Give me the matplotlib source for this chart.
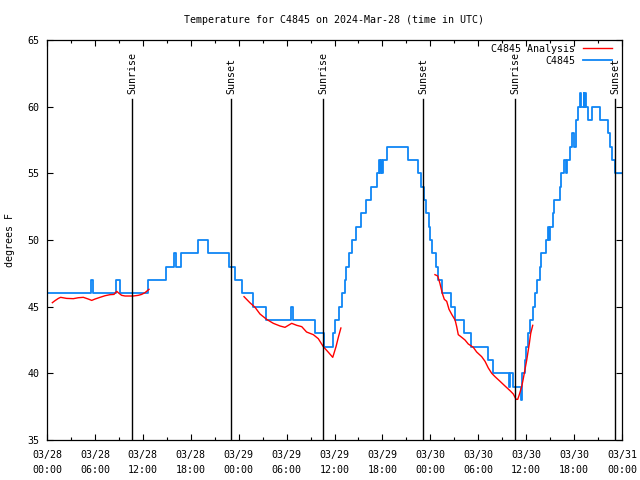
import numpy as np
import pandas as pd
import matplotlib
matplotlib.use('Agg')
import matplotlib.pyplot as plt
import matplotlib.dates as mdates
from matplotlib.transforms import blended_transform_factory

plt.rcParams['font.family'] = ['DejaVu Sans Mono']
plt.rcParams['font.size'] = 7.2

start = pd.Timestamp('2024-03-28 00:00')

# observed station temps (hours after 03/28 00:00 UTC, deg F), stepwise
obs_hours = [0.1, 5.55, 5.75, 8.6, 9.2, 12.6, 14.9, 15.95, 16.1, 16.8, 18.9, 20.2,
             22.8, 23.6, 24.4, 25.8, 27.4, 30.55, 30.75, 33.55, 34.7, 35.8, 36.0,
             36.6, 37.0, 37.3, 37.5, 37.8, 38.2, 38.7, 39.3, 40.0, 40.6, 41.3, 41.6,
             41.75, 41.85, 41.95, 42.05, 42.6, 45.2, 46.5, 46.8, 47.2, 47.5, 47.8,
             48.0, 48.2, 48.7, 49.0, 49.5, 50.6, 51.1, 52.2, 53.1, 55.2, 55.9, 57.8,
             58.0, 58.4, 59.4, 59.5, 59.8, 60.0, 60.2, 60.5, 60.8, 61.1, 61.3, 61.7,
             61.9, 62.5, 62.7, 62.85, 63.0, 63.4, 63.5, 64.2, 64.4, 64.7, 65.0, 65.1,
             65.5, 65.7, 66.0, 66.2, 66.3, 66.5, 66.7, 66.9, 67.2, 67.3, 67.4, 67.5,
             67.7, 68.2, 69.2, 70.2, 70.5, 70.7, 71.1, 72.0]
obs_temps = [46, 47, 46, 47, 46, 47, 48, 49, 48, 49, 50, 49,
             48, 47, 46, 45, 44, 45, 44, 43, 42, 43, 44,
             45, 46, 47, 48, 49, 50, 51, 52, 53, 54, 55, 56,
             55, 56, 55, 56, 57, 56, 55, 54, 53, 52, 51,
             50, 49, 48, 47, 46, 45, 44, 43, 42, 41, 40, 39,
             40, 39, 38, 40, 41, 42, 43, 44, 45, 46, 47, 48,
             49, 50, 51, 50, 51, 52, 53, 54, 55, 56, 55, 56,
             57, 58, 57, 58, 59, 60, 61, 60, 61, 60, 61, 60,
             59, 60, 59, 58, 57, 56, 55, 55]

# analysis, three pieces with gaps between them
ana1_hours = [0.67, 1.0, 1.42, 1.71, 2.46, 3.3, 3.92, 4.55, 5.18, 5.6, 6.0, 6.64,
              7.26, 7.89, 8.39, 8.73, 9.02, 9.35, 9.77, 10.8, 11.43, 11.85, 12.27,
              12.57, 12.77]
ana1_temps = [45.3, 45.45, 45.62, 45.7, 45.62, 45.6, 45.67, 45.7, 45.57, 45.47, 45.57,
              45.7, 45.82, 45.9, 45.92, 46.15, 46.0, 45.85, 45.8, 45.8, 45.85, 45.92,
              46.05, 46.2, 46.3]
ana2_hours = [24.67, 25.4, 26.05, 26.67, 27.5, 28.34, 29.18, 29.8, 30.64, 31.27, 31.9,
              32.5, 33.35, 33.97, 34.6, 35.2, 35.78, 36.19, 36.5, 36.8]
ana2_temps = [45.75, 45.3, 44.95, 44.45, 44.05, 43.75, 43.55, 43.45, 43.75, 43.6, 43.5,
              43.1, 42.9, 42.6, 42.0, 41.6, 41.2, 42.0, 42.75, 43.4]
ana3_hours = [48.58, 48.92, 49.2, 49.5, 49.75, 50.05, 50.34, 50.7, 51.1, 51.3, 51.5,
              51.93, 52.34, 52.75, 53.38, 53.8, 54.43, 54.85, 55.26, 55.69, 56.1,
              56.73, 57.35, 57.98, 58.39, 58.73, 58.94, 59.14, 59.44, 59.64, 60.07,
              60.4, 60.57, 60.82]
ana3_temps = [47.4, 47.3, 46.75, 46.0, 45.55, 45.4, 44.8, 44.4, 44.0, 43.5, 42.9,
              42.7, 42.5, 42.2, 41.95, 41.6, 41.25, 40.9, 40.4, 40.0, 39.75,
              39.4, 39.05, 38.7, 38.45, 38.05, 38.05, 38.4, 39.0, 39.6, 41.0,
              42.25, 43.0, 43.6]

sun_hours = [10.64, 23.04, 34.56, 47.08, 58.6, 71.12]
sun_names = ['Sunrise', 'Sunset', 'Sunrise', 'Sunset', 'Sunrise', 'Sunset']


def to_time(hours):
    return start + pd.to_timedelta(np.asarray(hours), unit='h')


fig = plt.figure(figsize=(6.4, 4.8), dpi=100)
ax = fig.add_axes([47 / 640, 40 / 480, 575 / 640, 400 / 480])

red = '#ff0000'
blue = '#0f86f5'
ax.step(to_time(obs_hours), obs_temps, where='post', color=blue, lw=1.3,
        label='C4845', zorder=2)
ax.plot(to_time(ana1_hours), ana1_temps, color=red, lw=1.0,
        label='C4845 Analysis', zorder=3)
ax.plot(to_time(ana2_hours), ana2_temps, color=red, lw=1.0, zorder=3)
ax.plot(to_time(ana3_hours), ana3_temps, color=red, lw=1.0, zorder=3)

trans = blended_transform_factory(ax.transData, ax.transAxes)
for h, name in zip(sun_hours, sun_names):
    t = to_time([h])[0]
    ax.axvline(t, ymin=0, ymax=0.8525, color='black', lw=1.0, zorder=4)
    ax.text(t, 0.866, name, transform=trans, rotation=90,
            ha='center', va='bottom', zorder=4)

ax.set_xlim(start, start + pd.Timedelta(hours=72))
ax.set_ylim(35, 65)
ax.set_yticks(np.arange(35, 66, 5))
ax.xaxis.set_major_locator(mdates.HourLocator(byhour=[0, 6, 12, 18]))
ax.xaxis.set_minor_locator(mdates.HourLocator(byhour=[3, 9, 15, 21]))
ax.xaxis.set_major_formatter(mdates.DateFormatter('%m/%d\n%H:%M'))
ax.tick_params(which='both', direction='in', top=True, right=True, width=0.8)
ax.tick_params(axis='x', which='major', length=4, pad=7.5)
ax.tick_params(axis='x', which='minor', length=2.5)
ax.tick_params(axis='y', which='major', length=4, pad=5.5)
for sp in ax.spines.values():
    sp.set_linewidth(0.9)

# legend: text first, line sample after
handles, labels = ax.get_legend_handles_labels()
order = [1, 0]
ax.legend([handles[i] for i in order], [labels[i] for i in order],
          loc='upper right', bbox_to_anchor=(0.983, 0.99), frameon=False,
          markerfirst=False, handlelength=2.9, handletextpad=0.8,
          labelspacing=0.2, borderpad=0, borderaxespad=0)

fig.text(334 / 640, 1 - 20 / 480, 'Temperature for C4845 on 2024-Mar-28 (time in UTC)',
         ha='center', va='center')
fig.text(10 / 640, 0.5, 'degrees F', rotation=90, ha='center', va='center')

fig.canvas.draw()
for lab in ax.get_xticklabels():
    lab.set_linespacing(1.6)

fig.savefig('out.png', dpi=100)
